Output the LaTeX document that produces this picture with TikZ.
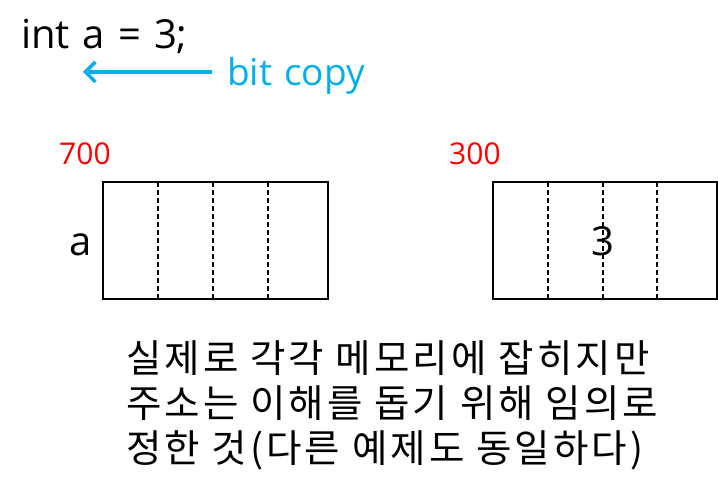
\documentclass[tikz,border=0pt]{standalone}
\usepackage{fontspec}
\setmainfont{Open Sans}[WordSpace=1.25]
\newfontfamily\krfont{Noto Sans CJK KR}[LetterSpace=8]
\usetikzlibrary{arrows.meta,positioning}
\definecolor{copyblue}{RGB}{0,176,240}
\definecolor{addrred}{RGB}{255,0,0}

\begin{document}
\begin{tikzpicture}[x=1pt,y=-1pt,
    code/.style={inner sep=0pt, font=\fontsize{40}{48}\selectfont},
    addr/.style={inner sep=0pt, text=addrred, font=\fontsize{30}{36}\selectfont},
    note/.style={inner sep=0pt, anchor=base west, font=\krfont\fontsize{38.5}{45}\selectfont},
    cell/.style={line width=2.4pt},
    divider/.style={line width=2pt, dash pattern=on 5pt off 3pt}]
          \useasboundingbox (0,0) rectangle (718,489);

          \node[code, anchor=base west] (decl) at (21, 49) {int a = 3;};
          \node[inner sep=0pt, anchor=base west, text=copyblue, font=\fontsize{37}{44}\selectfont] (bitcopy) at (227, 86) {bit copy};
          \coordinate (copytail) at (212, 72);
          \coordinate (copytip) at (83, 72);
          \draw[copyblue, line width=3.4pt, -{Straight Barb[length=10pt, width=20pt]}] (copytail) -- (copytip);

          % memory of a
          \node[addr, anchor=base west] (addra) at (59, 165) {700};
          \draw[cell] (103, 182) rectangle (328, 299);
          \draw[divider] (158, 182) -- (158, 299);
          \draw[divider] (213, 182) -- (213, 299);
          \draw[divider] (268, 182) -- (268, 299);
          \node[code, anchor=base] (namea) at (81, 256) {a};

          % copied memory
          \node[addr, anchor=base west] (addrb) at (449, 165) {300};
          \draw[cell] (493, 182) rectangle (716.8, 299);
          \draw[divider] (548, 182) -- (548, 299);
          \draw[divider] (603, 182) -- (603, 299);
          \draw[divider] (657, 182) -- (657, 299);
          \node[code, anchor=base] (valb) at (603, 256) {3};

          \node[note] (note1) at (126, 372) {실제로 각각 메모리에 잡히지만};
          \node[note] (note2) at (126, 417) {주소는 이해를 돕기 위해 임의로};
          \node[note] (note3) at (126, 462) {정한 것(다른 예제도 동일하다)};
        \end{tikzpicture}
\end{document}
